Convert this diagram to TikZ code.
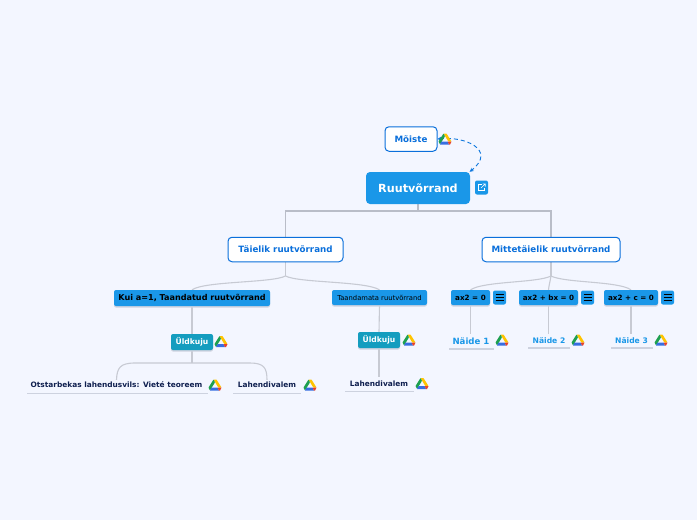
\documentclass[tikz,border=0pt]{standalone}
\usepackage{fontspec}
\setmainfont{DejaVu Sans}
\usetikzlibrary{arrows.meta,shadows,backgrounds}
\definecolor{bgc}{HTML}{F3F6FF}
\definecolor{blu}{HTML}{1A97E8}
\definecolor{deep}{HTML}{0A6FDB}
\definecolor{teal}{HTML}{149DBF}
\definecolor{navy}{HTML}{0F1F4F}
\definecolor{lin}{HTML}{B9BDC8}
\definecolor{und}{HTML}{CDD2DF}
\tikzset{
 x=1pt,y=-1pt,
 shad/.style={general shadow={fill=und,shadow xshift=0pt,shadow yshift=-1.5pt}},
 rootbox/.style={fill=blu,rounded corners=4pt,text=white,font=\fontsize{11.2}{13}\selectfont\bfseries,minimum width=104pt,minimum height=32pt,inner sep=0pt},
 whitebox/.style={fill=white,draw=deep,line width=1pt,rounded corners=4pt,text=deep,font=\fontsize{8.7}{10}\selectfont\bfseries,inner sep=0pt,minimum height=24.5pt},
 bluebox/.style={shad,fill=blu,rounded corners=2pt,text=black,font=\fontsize{7.2}{9}\selectfont\bfseries,inner sep=0pt,minimum height=15pt},
 tealbox/.style={shad,fill=teal,rounded corners=2pt,text=white,font=\fontsize{7.6}{9}\selectfont\bfseries,inner sep=0pt,minimum width=42pt,minimum height=16pt},
 leaf/.style={text=navy,font=\fontsize{7.4}{9}\selectfont\bfseries,inner sep=0pt},
 ex/.style={text=blu,font=\fontsize{7.6}{9}\selectfont\bfseries,inner sep=0pt},
 conn/.style={draw=lin,line width=1.3pt},
 thin conn/.style={draw=lin!80!white,line width=1.1pt},
 ul/.style={draw=und,line width=1.2pt},
 iconbox/.style={fill=blu,rounded corners=2pt,minimum width=13pt,minimum height=14pt,inner sep=0pt},
 drive/.pic={
  \fill[rounded corners=0.5pt,fill={rgb,255:red,255;green,196;blue,0}] (-1.5,-6) -- (1.5,-6) -- (6.5,2) -- (3.3,2) -- cycle;
  \fill[rounded corners=0.5pt,fill={rgb,255:red,30;green,160;blue,80}] (-1.5,-6) -- (-6.5,2) -- (-5,5) -- (0,-3.2) -- cycle;
  \fill[fill={rgb,255:red,55;green,110;blue,225}] (-3.5,2) -- (-5,5) -- (4,5) -- (2.5,2) -- cycle;
  \fill[fill={rgb,255:red,230;green,65;blue,45}] (2.5,2) -- (6.5,2) -- (5,5) -- (4,5) -- cycle;
 },
 menu/.pic={
  \draw[black,line width=0.6pt] (-4,-3) -- (4,-3) (-4,0) -- (4,0) (-4,3) -- (4,3);
 },
 linkicon/.pic={
  \draw[white,line width=0.6pt] (0,-3) -- (-3,-3) -- (-3,3) -- (3,3) -- (3,0);
  \draw[white,line width=0.6pt] (-0.5,0.5) -- (3.5,-3.5) (1,-3.7) -- (3.7,-3.7) -- (3.7,-1);
 }
}
\begin{document}
\begin{tikzpicture}
\useasboundingbox (0,0) rectangle (697,520);
% nodes
\node[whitebox,minimum width=52pt] (moiste) at (411,139) {Mõiste};
\node[rootbox] (root) at (418,188) {Ruutvõrrand};
\node[iconbox] (link) at (481.5,187.5) {};
\node[whitebox,minimum width=115pt] (taielik) at (285.5,249.5) {Täielik ruutvõrrand};
\node[whitebox,minimum width=138pt] (mitte) at (551,249.5) {Mittetäielik ruutvõrrand};
\node[bluebox,minimum width=156pt,minimum height=16pt,font=\fontsize{8.1}{10}\selectfont\bfseries] (kui) at (192,298) {Kui a=1, Taandatud ruutvõrrand};
\node[bluebox,minimum width=95pt,font=\fontsize{6.8}{8}\selectfont] (taan) at (379.5,297.5) {Taandamata ruutvõrrand};
\node[bluebox,minimum width=39pt] (a) at (470.5,297.5) {ax2 = 0};
\node[iconbox] (ma) at (499.5,297.5) {};
\node[bluebox,minimum width=59pt] (b) at (548.5,297.5) {ax2 + bx = 0};
\node[iconbox] (mb) at (587.5,297.5) {};
\node[bluebox,minimum width=54pt] (c) at (631,297.5) {ax2 + c = 0};
\node[iconbox] (mc) at (667.5,297.5) {};
\node[tealbox] (u1) at (192,342) {Üldkuju};
\node[tealbox] (u2) at (379,340) {Üldkuju};
\node[leaf] (ot) at (116.5,385) {Otstarbekas lahendusvils: Vieté teoreem};
\node[leaf] (la) at (267,385) {Lahendivalem};
\node[leaf] (lb) at (379,383.5) {Lahendivalem};
\node[ex,font=\fontsize{8.6}{10}\selectfont\bfseries] (n1) at (471,341) {Näide 1};
\node[ex] (n2) at (549,340.5) {Näide 2};
\node[ex] (n3) at (631.5,340.5) {Näide 3};
% junctions
\coordinate (bus) at (418,211);
\coordinate (t1) at (285.5,276);
\coordinate (m1) at (551,276);
\coordinate (join) at (192,363);
% connectors, under the boxes
\begin{scope}[on background layer]
\fill[bgc] (0,0) rectangle (697,520);
\draw[conn] (root.south) -- (bus);
\draw[conn] (taielik.north) -- (taielik.north |- bus) -- (mitte.north |- bus) -- (mitte.north);
\draw[thin conn] (taielik.south) -- (t1);
\draw[thin conn] (t1) .. controls (272,283) and (205,281) .. (kui.north);
\draw[thin conn] (t1) .. controls (299,283) and (365,281) .. (taan.north);
\draw[thin conn] (mitte.south) -- (m1);
\draw[thin conn] (m1) .. controls (537,283) and (484,281) .. (a.north);
\draw[thin conn] (m1) .. controls (550,282) and (549,285) .. (b.north);
\draw[thin conn] (m1) .. controls (565,283) and (618,281) .. (c.north);
\draw[thin conn] (kui.south) -- (u1.north);
\draw[thin conn] (u1.south) -- (join);
\draw[thin conn] ([yshift=2pt]ot.north) .. controls (117,368) and (120,363) .. (135,363) -- (join) -- (250,363) .. controls (264,363) and (267,368) .. ([yshift=2pt]la.north);
\draw[thin conn] (taan.south) -- (u2.north);
\draw[thin conn,shorten >=3pt] (u2.south) -- (lb.north);
\draw[thin conn,shorten >=3pt] (a.south) -- (a.south |- n1.north);
\draw[thin conn,shorten >=3pt] (b.south) -- (b.south |- n2.north);
\draw[thin conn,shorten >=3pt] (c.south) -- (c.south |- n3.north);
\end{scope}
% underlines
\draw[ul] (27,393.5) -- (208,393.5);
\draw[ul] (233,393.5) -- (301,393.5);
\draw[ul] (345,391.5) -- (414,391.5);
\draw[ul] (449,349) -- (494,349);
\draw[ul] (528,348) -- (570,348);
\draw[ul] (611,348) -- (653,348);
% relation
\draw[deep!80!blu,line width=0.9pt,dash pattern=on 4pt off 3pt,{Stealth[length=4pt,width=4pt]}-{Stealth[length=4pt,width=4pt]}] (moiste.east) .. controls (465,136) and (497,150) .. ([xshift=-0.5pt]root.north east |- root.north);
% icons
\pic at (445,139.5) {drive};
\pic at (221,342) {drive};
\pic at (215,385.5) {drive};
\pic at (310,385.5) {drive};
\pic at (409,340.5) {drive};
\pic at (422,384) {drive};
\pic at (502,340.5) {drive};
\pic at (578,340.5) {drive};
\pic at (661,340.5) {drive};
\pic at (link.center) {linkicon};
\pic at (ma.center) {menu};
\pic at (mb.center) {menu};
\pic at (mc.center) {menu};
\end{tikzpicture}
\end{document}
